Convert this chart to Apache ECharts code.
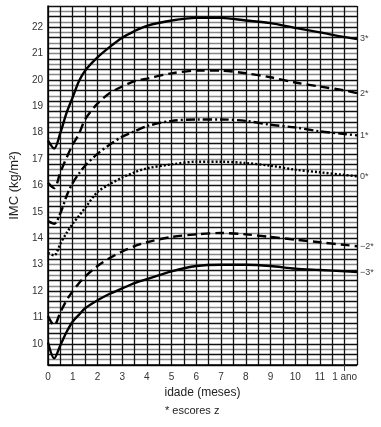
<!DOCTYPE html>
<html><head><meta charset="utf-8">
<script src="https://cdn.jsdelivr.net/npm/echarts@6/dist/echarts.min.js"></script>
<style>html,body{margin:0;padding:0;background:#fff}#c{width:381px;height:427px}</style>
</head><body><div id="c"></div>
<script>
const months  = [0, 0.25, 0.5, 0.75, 1, 1.25, 1.5, 2, 2.5, 3, 3.5, 4, 5, 6, 7, 8, 9, 10, 11, 12, 12.5];
const zPlus3  = [17.7, 17.4, 18.0, 18.75, 19.35, 19.95, 20.35, 20.85, 21.25, 21.6, 21.85, 22.05, 22.25, 22.35, 22.35, 22.25, 22.15, 21.97, 21.8, 21.62, 21.55];
const zPlus2  = [16.1, 15.9, 16.5, 17.05, 17.55, 17.95, 18.5, 19.1, 19.5, 19.75, 19.95, 20.05, 20.25, 20.35, 20.35, 20.25, 20.1, 19.9, 19.75, 19.6, 19.5];
const zPlus1  = [14.65, 14.55, 14.95, 15.6, 16.1, 16.45, 16.75, 17.2, 17.55, 17.85, 18.05, 18.25, 18.45, 18.5, 18.5, 18.45, 18.3, 18.2, 18.05, 17.95, 17.9];
const zZero   = [13.45, 13.35, 13.8, 14.2, 14.55, 14.85, 15.15, 15.75, 16.05, 16.3, 16.5, 16.65, 16.8, 16.9, 16.9, 16.85, 16.75, 16.6, 16.5, 16.4, 16.35];
const zMinus2 = [11.05, 10.7, 11.2, 11.65, 12.0, 12.3, 12.55, 12.95, 13.25, 13.5, 13.7, 13.85, 14.05, 14.15, 14.2, 14.15, 14.05, 13.95, 13.85, 13.75, 13.7];
const zMinus3 = [10.05, 9.45, 9.95, 10.45, 10.85, 11.1, 11.35, 11.65, 11.9, 12.1, 12.3, 12.45, 12.75, 12.95, 13.0, 13.0, 12.95, 12.85, 12.8, 12.75, 12.72];
const seriesNames = ['3*', '2*', '1*', '0*', '\u22122*', '\u22123*'];
const xTickLabels = ['0','1','2','3','4','5','6','7','8','9','10','11','1 ano'];
const yTickLabels = [10,11,12,13,14,15,16,17,18,19,20,21,22];

const font = "'Liberation Sans', Arial, sans-serif";
const styles = [
  {type: 'solid'},
  {type: [9, 5]},
  {type: [9, 3, 2, 3]},
  {type: [2, 2]},
  {type: [9, 5]},
  {type: 'solid'}
];
const allData = [zPlus3, zPlus2, zPlus1, zZero, zMinus2, zMinus3];
const series = allData.map((vals, i) => ({
  type: 'line',
  name: seriesNames[i],
  data: months.map((m, j) => [m, vals[j]]),
  smooth: 0.3,
  showSymbol: false,
  symbol: 'none',
  lineStyle: Object.assign({color: '#000', width: 2.4}, styles[i]),
  endLabel: {show: true, formatter: seriesNames[i], color: '#444', fontSize: 9, fontFamily: font, distance: 3},
  z: 5
}));

const chart = echarts.init(document.getElementById('c'), null, {renderer: 'canvas'});
chart.setOption({
  animation: false,
  grid: {left: 33, right: 24, top: 6, bottom: 62},
  xAxis: [{
    type: 'value', min: 0, max: 12.5, interval: 0.5,
    name: 'idade (meses)', nameLocation: 'middle', nameGap: 19,
    nameTextStyle: {fontSize: 12, color: '#222', fontFamily: font},
    axisLine: {show: true, lineStyle: {color: '#000', width: 1.5}},
    axisTick: {show: false},
    axisLabel: {customValues: [0,1,2,3,4,5,6,7,8,9,10,11,12], fontSize: 10, color: '#333', fontFamily: font, margin: 7,
      formatter: v => xTickLabels[Math.round(v)]},
    splitLine: {show: true, lineStyle: {color: '#111', width: 1.3}}
  }, {
    type: 'value', min: 0, max: 12.5, position: 'bottom', offset: 0,
    axisLine: {show: false},
    axisTick: {show: true, customValues: [12], length: 6, lineStyle: {color: '#444', width: 1}},
    axisLabel: {show: false},
    splitLine: {show: false}
  }],
  yAxis: {
    type: 'value', min: 9.2, max: 22.8, interval: 0.2,
    name: 'IMC (kg/m\u00b2)', nameLocation: 'middle', nameGap: 20,
    nameTextStyle: {fontSize: 13, color: '#222', fontFamily: font},
    axisLine: {show: true, lineStyle: {color: '#000', width: 1.5}},
    axisTick: {show: false},
    axisLabel: {customValues: yTickLabels, fontSize: 10, color: '#333', fontFamily: font, margin: 5},
    splitLine: {show: true, lineStyle: {color: ['#111', '#888'], width: 1.3}}
  },
  graphic: [{type: 'text', left: 165, top: 405, style: {text: '* escores z', fontSize: 11, fill: '#222', fontFamily: font}}],
  series: series
});
</script></body></html>
